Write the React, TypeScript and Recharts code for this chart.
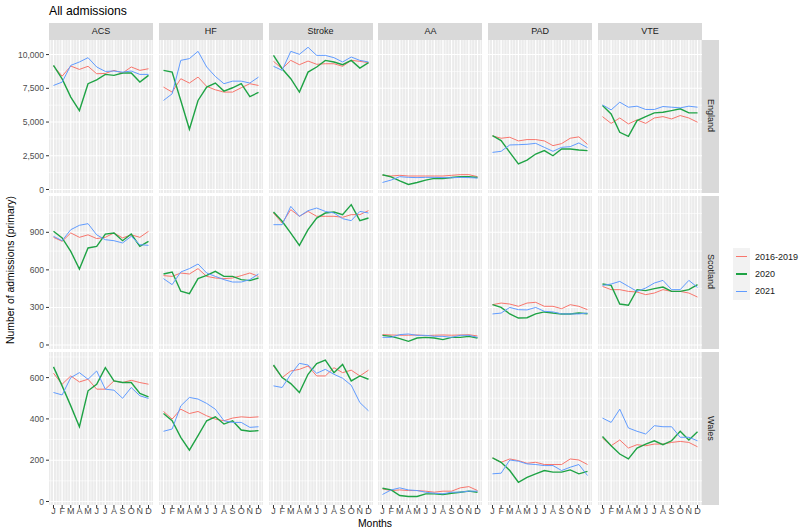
import { CartesianGrid, Line, LineChart, XAxis, YAxis } from "recharts";

const MONTHS = ["J", "F", "M", "A", "M", "J", "J", "A", "S", "O", "N", "D"];
const CONDITIONS = ["ACS", "HF", "Stroke", "AA", "PAD", "VTE"];
const NATIONS = ["England", "Scotland", "Wales"];
const PERIODS = ["2016-2019", "2020", "2021"];
const COLORS = ["#F8766D", "#1FA345", "#619CFF"];

// England
const engACS_1619 = [9150, 8400, 9150, 8900, 9130, 8580, 8600, 8830, 8630, 9080, 8830, 8950];
const engACS_2020 = [9200, 8200, 6850, 5850, 7840, 8130, 8530, 8460, 8630, 8630, 7960, 8460];
const engACS_2021 = [7710, 7960, 9200, 9450, 9770, 9080, 8750, 8780, 8700, 8780, 8530, 8530];
const engHF_1619 = [7590, 7220, 8210, 7890, 8330, 7640, 7390, 7220, 7220, 7540, 7840, 7710];
const engHF_2020 = [8830, 8700, 6600, 4460, 6600, 7590, 7890, 7290, 7540, 7840, 6890, 7190];
const engHF_2021 = [6600, 7090, 9570, 9700, 10240, 9080, 8380, 7840, 8030, 8030, 7890, 8330];
const engStroke_1619 = [9500, 8950, 9570, 9250, 9520, 9280, 9320, 9320, 9130, 9570, 9500, 9400];
const engStroke_2020 = [9940, 8950, 8210, 7220, 8700, 9080, 9570, 9450, 9250, 9570, 9000, 9400];
const engStroke_2021 = [9130, 8830, 10240, 10020, 10540, 9940, 9940, 9770, 9450, 9820, 9570, 9450];
const engAA_1619 = [1050, 1000, 1050, 1000, 1000, 1000, 1000, 1000, 1050, 1100, 1100, 950];
const engAA_2020 = [1090, 940, 645, 370, 520, 690, 820, 820, 890, 940, 940, 890];
const engAA_2021 = [520, 700, 950, 900, 880, 900, 900, 880, 870, 900, 880, 850];
const engPAD_1619 = [3970, 3800, 3870, 3600, 3700, 3700, 3600, 3250, 3400, 3800, 3900, 3350];
const engPAD_2020 = [3990, 3620, 2750, 1900, 2180, 2630, 2880, 2500, 3000, 3000, 2930, 2880];
const engPAD_2021 = [2750, 2830, 3300, 3320, 3350, 3420, 3125, 2830, 3125, 3175, 3450, 3100];
const engVTE_1619 = [5400, 4900, 5300, 4860, 5160, 4900, 5300, 5400, 5230, 5480, 5300, 4985];
const engVTE_2020 = [6220, 5600, 4240, 3940, 5110, 5400, 5680, 5730, 5850, 5980, 5680, 5680];
const engVTE_2021 = [6270, 5900, 6470, 6100, 6175, 5930, 5930, 6150, 6100, 6050, 6175, 6100];

// Scotland
const scoACS_1619 = [860, 828, 895, 860, 880, 850, 860, 895, 855, 880, 860, 908];
const scoACS_2020 = [908, 855, 748, 607, 775, 788, 886, 895, 833, 886, 788, 828];
const scoACS_2021 = [868, 833, 921, 956, 969, 880, 841, 833, 815, 868, 801, 796];
const scoHF_1619 = [554, 548, 575, 567, 610, 548, 535, 530, 535, 554, 575, 548];
const scoHF_2020 = [567, 583, 429, 410, 530, 556, 588, 548, 548, 522, 514, 535];
const scoHF_2021 = [530, 482, 583, 610, 647, 575, 548, 522, 503, 503, 522, 567];
const scoStroke_1619 = [1054, 974, 1081, 1028, 1067, 1028, 1028, 1028, 1020, 1041, 1041, 1073];
const scoStroke_2020 = [1062, 988, 894, 796, 921, 1014, 1054, 1062, 1041, 1121, 993, 1014];
const scoStroke_2021 = [961, 961, 1107, 1028, 1073, 1094, 1067, 1054, 1009, 993, 1067, 1054];
const scoAA_1619 = [83, 80, 78, 78, 80, 75, 78, 80, 78, 80, 82, 72];
const scoAA_2020 = [77, 69, 51, 29, 56, 61, 56, 43, 61, 61, 69, 56];
const scoAA_2021 = [61, 61, 83, 88, 77, 77, 69, 69, 61, 77, 77, 61];
const scoPAD_1619 = [322, 335, 327, 309, 335, 341, 309, 309, 290, 322, 309, 282];
const scoPAD_2020 = [322, 300, 248, 215, 218, 248, 264, 255, 248, 248, 255, 250];
const scoPAD_2021 = [248, 255, 300, 282, 280, 300, 269, 264, 248, 248, 248, 255];
const scoVTE_1619 = [468, 442, 442, 428, 423, 402, 415, 442, 428, 428, 415, 383];
const scoVTE_2020 = [487, 476, 327, 317, 442, 434, 450, 463, 428, 428, 442, 482];
const scoVTE_2021 = [476, 487, 508, 468, 428, 455, 495, 516, 442, 442, 516, 460];

// Wales
const walACS_1619 = [621, 568, 608, 579, 592, 544, 544, 584, 576, 587, 576, 568];
const walACS_2020 = [652, 560, 463, 362, 536, 568, 648, 584, 576, 576, 523, 507];
const walACS_2021 = [528, 516, 600, 624, 592, 632, 544, 539, 500, 552, 512, 499];
const walHF_1619 = [436, 399, 447, 426, 436, 415, 399, 391, 404, 410, 407, 410];
const walHF_2020 = [426, 391, 311, 249, 319, 391, 410, 375, 391, 346, 340, 343];
const walHF_2021 = [340, 351, 463, 504, 496, 475, 447, 391, 383, 383, 359, 362];
const walStroke_1619 = [656, 600, 632, 640, 656, 608, 608, 648, 624, 636, 608, 636];
const walStroke_2020 = [661, 600, 571, 528, 616, 668, 685, 624, 664, 584, 608, 592];
const walStroke_2021 = [560, 552, 616, 669, 661, 621, 640, 616, 597, 563, 479, 439];
const walAA_1619 = [61, 53, 56, 53, 53, 50, 45, 50, 50, 66, 72, 53];
const walAA_2020 = [64, 56, 29, 24, 24, 37, 37, 34, 40, 45, 50, 45];
const walAA_2021 = [34, 56, 66, 56, 53, 45, 40, 37, 45, 45, 50, 50];
const walPAD_1619 = [211, 190, 206, 198, 185, 190, 179, 179, 179, 206, 201, 179];
const walPAD_2020 = [211, 190, 150, 93, 117, 134, 150, 142, 142, 153, 134, 146];
const walPAD_2021 = [134, 137, 201, 195, 182, 179, 174, 174, 150, 166, 179, 126];
const walVTE_1619 = [307, 270, 298, 259, 275, 270, 278, 278, 286, 291, 286, 265];
const walVTE_2020 = [315, 270, 230, 206, 259, 278, 294, 275, 294, 340, 298, 338];
const walVTE_2021 = [404, 383, 447, 356, 340, 327, 367, 362, 362, 311, 311, 294];

const SERIES: number[][][][] = [
  [
    [engACS_1619, engACS_2020, engACS_2021],
    [engHF_1619, engHF_2020, engHF_2021],
    [engStroke_1619, engStroke_2020, engStroke_2021],
    [engAA_1619, engAA_2020, engAA_2021],
    [engPAD_1619, engPAD_2020, engPAD_2021],
    [engVTE_1619, engVTE_2020, engVTE_2021],
  ],
  [
    [scoACS_1619, scoACS_2020, scoACS_2021],
    [scoHF_1619, scoHF_2020, scoHF_2021],
    [scoStroke_1619, scoStroke_2020, scoStroke_2021],
    [scoAA_1619, scoAA_2020, scoAA_2021],
    [scoPAD_1619, scoPAD_2020, scoPAD_2021],
    [scoVTE_1619, scoVTE_2020, scoVTE_2021],
  ],
  [
    [walACS_1619, walACS_2020, walACS_2021],
    [walHF_1619, walHF_2020, walHF_2021],
    [walStroke_1619, walStroke_2020, walStroke_2021],
    [walAA_1619, walAA_2020, walAA_2021],
    [walPAD_1619, walPAD_2020, walPAD_2021],
    [walVTE_1619, walVTE_2020, walVTE_2021],
  ],
];

// per-row y scales (facet free_y by nation)
const Y_DOMAINS = [
  [-260, 11080],
  [-32, 1190],
  [-17, 724],
];
const Y_TICKS = [
  [0, 2500, 5000, 7500, 10000],
  [0, 300, 600, 900],
  [0, 200, 400, 600],
];
const Y_MINOR = [
  [1250, 3750, 6250, 8750],
  [150, 450, 750, 1050],
  [100, 300, 500, 700],
];

const FONT = '"Liberation Sans", Arial, sans-serif';
const COL_X = [49, 158.8, 268.6, 378.4, 488.2, 598];
const ROW_Y = [39.5, 195.5, 351.5];
const PW = 104;
const PH = 153;
const YAXIS_W = 49;
const XAXIS_H = 22;

const X_MONTHS = MONTHS.map((_, i) => i + 1);
const X_GRID: number[] = [];
for (let k = 2; k <= 37; k++) X_GRID.push(k / 3);

function toRows(lines: number[][]) {
  return MONTHS.map((_, i) => ({
    m: i + 1,
    p0: lines[0][i],
    p1: lines[1][i],
    p2: lines[2][i],
  }));
}

function Panel({ row, col }: { row: number; col: number }) {
  const showY = col === 0;
  const showX = row === 2;
  const width = PW + (showY ? YAXIS_W : 0);
  const height = PH + (showX ? XAXIS_H : 0);
  const data = toRows(SERIES[row][col]);
  const tickStyle = { fontSize: 8.5, fill: "#4D4D4D", fontFamily: FONT };

  return (
    <div
      style={{
        position: "absolute",
        left: COL_X[col] - (showY ? YAXIS_W : 0),
        top: ROW_Y[row],
      }}
    >
      <LineChart
        width={width}
        height={height}
        data={data}
        margin={{ top: 0, right: 0, bottom: 0, left: 0 }}
        style={{ overflow: "visible" }}
      >
        <CartesianGrid
          fill="#EBEBEB"
          stroke="#FFFFFF"
          strokeWidth={0.6}
          horizontalValues={Y_MINOR[row]}
          verticalValues={X_GRID}
        />
        <CartesianGrid
          stroke="#FFFFFF"
          strokeWidth={1.1}
          horizontalValues={Y_TICKS[row]}
          verticalValues={X_MONTHS}
        />
        <XAxis
          dataKey="m"
          type="number"
          domain={[0.48, 12.52]}
          ticks={X_MONTHS}
          interval={0}
          allowDataOverflow
          hide={!showX}
          height={XAXIS_H}
          axisLine={false}
          tickLine={{ stroke: "#333333" }}
          tickSize={3}
          tickMargin={0}
          tick={{ ...tickStyle, fontSize: 9 }}
          tickFormatter={(v: number) => MONTHS[v - 1]}
        />
        <YAxis
          type="number"
          domain={Y_DOMAINS[row]}
          ticks={Y_TICKS[row]}
          interval={0}
          allowDataOverflow
          hide={!showY}
          width={YAXIS_W}
          axisLine={false}
          tickLine={{ stroke: "#333333" }}
          tickSize={3}
          tickMargin={2}
          tick={tickStyle}
          tickFormatter={(v: number) => v.toLocaleString("en-US")}
        />
        {PERIODS.map((p, i) => (
          <Line
            key={p}
            type="linear"
            dataKey={`p${i}`}
            name={p}
            stroke={COLORS[i]}
            strokeWidth={i === 1 ? 1.4 : 1}
            dot={false}
            activeDot={false}
            isAnimationActive={false}
          />
        ))}
      </LineChart>
    </div>
  );
}

export default function App() {
  return (
    <div
      style={{
        position: "absolute",
        left: 0,
        top: 0,
        width: 800,
        height: 529,
        background: "#FFFFFF",
        fontFamily: FONT,
        color: "#1A1A1A",
        overflow: "hidden",
      }}
    >
      <style>{`.recharts-wrapper, .recharts-surface { overflow: visible !important; }`}</style>
      <div style={{ position: "absolute", left: 49, top: 4, fontSize: 12.2, color: "#000" }}>
        All admissions
      </div>

      {CONDITIONS.map((c, i) => (
        <div
          key={c}
          style={{
            position: "absolute",
            left: COL_X[i],
            top: 23,
            width: PW,
            height: 16.5,
            background: "#D9D9D9",
            fontSize: 9,
            lineHeight: "16.5px",
            textAlign: "center",
          }}
        >
          {c}
        </div>
      ))}

      {NATIONS.map((n, r) => (
        <div
          key={n}
          style={{
            position: "absolute",
            left: 702,
            top: ROW_Y[r],
            width: 17,
            height: PH,
            background: "#D9D9D9",
            display: "flex",
            alignItems: "center",
            justifyContent: "center",
          }}
        >
          <span style={{ writingMode: "vertical-rl", fontSize: 9 }}>{n}</span>
        </div>
      ))}

      {NATIONS.map((_, r) =>
        CONDITIONS.map((_, c) => <Panel key={`${r}-${c}`} row={r} col={c} />)
      )}

      <div
        style={{
          position: "absolute",
          left: 10,
          top: 270,
          transform: "translate(-50%, -50%) rotate(-90deg)",
          whiteSpace: "nowrap",
          fontSize: 10.4,
          color: "#000",
        }}
      >
        Number of admissions (primary)
      </div>
      <div
        style={{
          position: "absolute",
          left: 375,
          top: 523,
          transform: "translate(-50%, -50%)",
          fontSize: 10.4,
          color: "#000",
        }}
      >
        Months
      </div>

      <div style={{ position: "absolute", left: 733, top: 248, width: 67, whiteSpace: "nowrap" }}>
        {PERIODS.map((p, i) => (
          <div key={p} style={{ display: "flex", alignItems: "center", height: 17.3 }}>
            <div
              style={{
                width: 17,
                height: 17.3,
                background: "#F2F2F2",
                position: "relative",
                flexShrink: 0,
              }}
            >
              <div
                style={{
                  position: "absolute",
                  left: 3,
                  right: 3,
                  top: 8,
                  height: i === 1 ? 1.5 : 1.1,
                  background: COLORS[i],
                }}
              />
            </div>
            <span style={{ marginLeft: 5, fontSize: 9 }}>{p}</span>
          </div>
        ))}
      </div>
    </div>
  );
}
